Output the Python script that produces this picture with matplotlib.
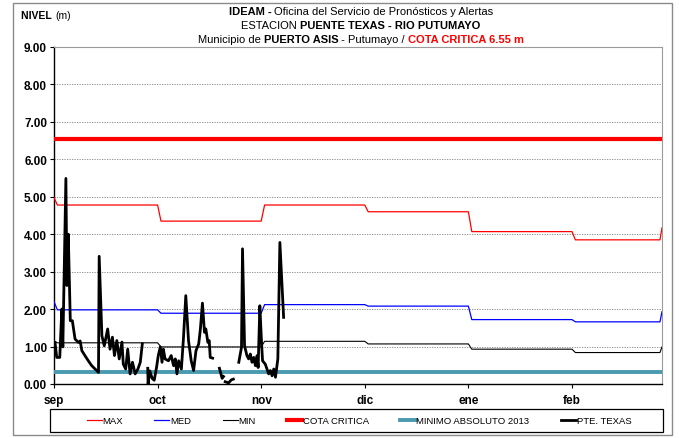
import numpy as np
import matplotlib
matplotlib.use("Agg")
import matplotlib.pyplot as plt
from matplotlib.lines import Line2D
from matplotlib.patches import Rectangle

plt.rcParams['font.family'] = ['Liberation Sans Narrow', 'Liberation Sans', 'DejaVu Sans']

# ------------------------------------------------------------
# data (x = days since 1 sep)
# ------------------------------------------------------------
month_labels = ["sep", "oct", "nov", "dic", "ene", "feb"]
month_pos = [0, 30.5, 61, 91.5, 122, 152.5]
x_end = 179

# monthly reference levels: ago, sep, oct, nov, dic, ene, feb, mar
max_vals = [4.98, 4.78, 4.35, 4.78, 4.60, 4.07, 3.85, 4.17]
med_vals = [2.20, 1.98, 1.89, 2.12, 2.08, 1.72, 1.66, 1.93]
min_vals = [1.14, 1.10, 0.99, 1.14, 1.07, 0.93, 0.84, 0.99]

cota_critica = 6.55
minimo_abs_2013 = 0.33

# observed levels, PTE. TEXAS (nan = no data)
obs_day = [0.3, 0.8, 1.7, 2.3, 2.6, 3.5, 3.8, 4.2, 4.8, 5.4, 6.2, 7.2, 7.7, 8.2,
           9.1, 10.1, 11.1, 12.1, 13.1, 13.3, 14.1, 14.8, 15.8, 16.5, 17.2, 17.8,
           18.5, 19.2, 20.0, 20.4, 21.1, 21.7, 22.4, 23.1, 23.9, 24.7, 25.4, 26.0,
           26.5,
           27.6, 27.7, 28.2, 28.9, 29.5, 30.2, 30.7, 31.3, 31.8, 32.2, 32.7, 33.7,
           34.5, 35.2, 35.7, 36.2, 36.7, 37.5, 38.1, 38.8, 39.6, 40.4, 41.1, 41.8,
           42.6, 43.1, 43.7, 44.3, 44.7, 45.3, 45.7, 46.0, 46.7,
           47.5,
           48.7, 49.5, 49.9,
           50.1,
           50.4, 51.4, 52.2, 52.8,
           53.5,
           54.4, 55.2, 55.5, 56.1, 56.8, 57.3, 57.8, 58.3, 58.8, 59.3, 59.8, 60.1,
           60.6, 61.1, 61.4, 62.2, 62.7, 63.2, 63.7, 64.2, 64.7, 65.2, 65.9, 66.5,
           67.6]
obs_level = [1.11, 0.71, 0.71, 2.00, 0.99, 5.49, 2.63, 4.00, 1.69, 1.69, 1.20, 1.11,
             1.15, 0.89, 0.76, 0.62, 0.49, 0.40, 0.31, 3.41, 1.29, 1.02, 1.47, 0.93,
             1.25, 0.76, 1.16, 0.67, 1.12, 0.53, 0.40, 0.93, 0.27, 0.58, 0.27, 0.40,
             0.58, 1.07,
             np.nan,
             0.42, 0.00, 0.35, 0.15, 0.10, 0.45, 0.76, 0.99, 0.58, 0.93, 0.67, 0.62,
             0.76, 0.49, 0.67, 0.27, 0.62, 0.40, 1.20, 2.36, 1.16, 0.62, 0.36, 0.89,
             1.07, 1.47, 2.16, 1.38, 1.47, 1.11, 1.16, 0.71, 0.69,
             np.nan,
             0.42, 0.15, 0.20,
             np.nan,
             0.06, 0.03, 0.11, 0.13,
             np.nan,
             0.58, 0.98, 3.61, 1.02, 0.76, 0.67, 0.80, 0.58, 0.71, 0.49, 0.76, 0.44,
             2.09, 1.11, 0.62, 0.53, 0.40, 0.27, 0.36, 0.22, 0.40, 0.18, 0.67, 3.78,
             1.78]


def monthly_steps(vals):
    xs, ys = [0, 1], [vals[0], vals[1]]
    for k in range(1, len(month_pos)):
        xs += [month_pos[k], month_pos[k] + 1]
        ys += [vals[k], vals[k + 1]]
    xs += [x_end - 0.6, x_end]
    ys += [vals[6], vals[7]]
    return xs, ys


W, H = 679, 439
fig = plt.figure(figsize=(W / 100, H / 100), dpi=100)
ax = fig.add_axes([54 / W, 1 - 385 / H, 608 / W, 337 / H])

teal = "#4A9AB0"
ax.axhline(cota_critica, color="#FF0000", lw=3.0, zorder=3)
ax.axhline(minimo_abs_2013, color=teal, lw=2.8, zorder=3)
ax.plot(*monthly_steps(max_vals), color="#FF0000", lw=0.9, zorder=4)
ax.plot(*monthly_steps(med_vals), color="#0000FF", lw=0.9, zorder=4)
ax.plot(*monthly_steps(min_vals), color="black", lw=0.8, zorder=4)
ax.plot(obs_day, obs_level, color="black", lw=2.0, zorder=5,
        solid_joinstyle="round")

ax.set_xlim(0, x_end)
ax.set_ylim(0, 9)
ax.set_yticks(np.arange(0, 10, 1))
ax.set_yticklabels([f"{v:.2f}" for v in range(10)], fontsize=8.5, fontweight="bold")
ax.set_xticks(month_pos)
ax.set_xticklabels(month_labels, fontsize=8.5, fontweight="bold")
ax.tick_params(axis="both", length=3, width=0.8, direction="out", pad=2)
ax.tick_params(axis="x", pad=4)
ax.yaxis.grid(True, color="#808080", ls=(0, (1.5, 1.5)), lw=0.6)
ax.set_axisbelow(True)
for s in ["top", "right"]:
    ax.spines[s].set_color("#9a9a9a")
    ax.spines[s].set_linewidth(0.8)
for s in ["left", "bottom"]:
    ax.spines[s].set_color("black")
    ax.spines[s].set_linewidth(1.0)

# ------------------------------------------------------------
# title made of bold / normal pieces
# ------------------------------------------------------------
renderer = fig.canvas.get_renderer()


def rich_line(x_center_px, y_px, parts, size):
    items = []
    total = 0.0
    for s, w, c in parts:
        t = fig.text(0, 1 - y_px / H, s, fontsize=size, fontweight=w, color=c,
                     va="baseline", ha="left")
        wd = t.get_window_extent(renderer).width
        items.append((t, wd))
        total += wd
    x = x_center_px - total / 2
    for t, wd in items:
        t.set_x(x / W)
        x += wd


cx = 361
rich_line(cx, 15, [("IDEAM - ", "bold", "black"),
                   ("Oficina del Servicio de Pronósticos y Alertas", "normal", "black")], 8)
rich_line(cx, 29, [("ESTACION ", "normal", "black"),
                   ("PUENTE TEXAS - RIO PUTUMAYO", "bold", "black")], 8)
rich_line(cx, 43, [("Municipio de ", "normal", "black"),
                   ("PUERTO ASIS", "bold", "black"),
                   (" - Putumayo / ", "normal", "black"),
                   ("COTA CRITICA 6.55 m", "bold", "#FF0000")], 8)
rich_line(46, 19, [("NIVEL ", "bold", "black"), ("(m)", "normal", "black")], 7.5)

# ------------------------------------------------------------
# legend + frames
# ------------------------------------------------------------
handles = [
    Line2D([], [], color="#FF0000", lw=0.9),
    Line2D([], [], color="#0000FF", lw=0.9),
    Line2D([], [], color="black", lw=0.8),
    Line2D([], [], color="#FF0000", lw=3.0),
    Line2D([], [], color=teal, lw=2.8),
    Line2D([], [], color="black", lw=2.0),
]
labels = ["MAX", "MED", "MIN", "COTA CRITICA", "MINIMO ABSOLUTO 2013", "PTE. TEXAS"]
fig.legend(handles, labels, loc="center", bbox_to_anchor=(359 / W, 1 - 422 / H),
           ncol=6, frameon=False, fontsize=6.8, handlelength=1.6, handletextpad=0.1,
           columnspacing=3.3)
fig.add_artist(Rectangle((50 / W, 1 - 433 / H), 613 / W, 23 / H, transform=fig.transFigure,
                         fill=False, edgecolor="black", lw=0.9))
fig.add_artist(Rectangle((13 / W, 1 - 436 / H), 659 / W, 432 / H, transform=fig.transFigure,
                         fill=False, edgecolor="#8a8a8a", lw=1.0))

fig.savefig("out.png", dpi=100)
